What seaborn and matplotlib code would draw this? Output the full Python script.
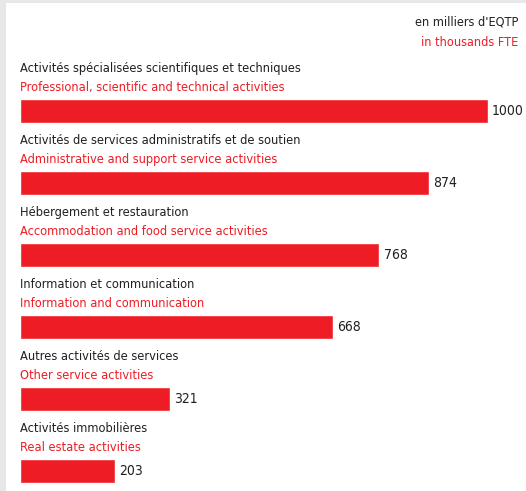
import matplotlib.pyplot as plt
import pandas as pd
import seaborn as sns

fr_labels = ["Activités spécialisées scientifiques et techniques",
             "Activités de services administratifs et de soutien",
             "Hébergement et restauration",
             "Information et communication",
             "Autres activités de services",
             "Activités immobilières"]
en_labels = ["Professional, scientific and technical activities",
             "Administrative and support service activities",
             "Accommodation and food service activities",
             "Information and communication",
             "Other service activities",
             "Real estate activities"]
values = [1000, 874, 768, 668, 321, 203]

red = "#ee1d25"
W, H = 526, 491

sns.set_style("white")
plt.rcParams['font.family'] = ['DejaVu Sans']
plt.rcParams['font.stretch'] = 'condensed'

df = pd.DataFrame({"cat": fr_labels, "val": values})

fig = plt.figure(figsize=(W / 100, H / 100), dpi=100)
fig.patch.set_facecolor("#e6e7e9")
bg = fig.add_axes([6 / W, 0, 1 - 6 / W, 488 / H])
bg.set_facecolor("white")
bg.set_xticks([])
bg.set_yticks([])
for s in bg.spines.values():
    s.set_visible(False)

ax = fig.add_axes([20 / W, 0, 468 / W, 1])
ax.set_zorder(2)
ax.patch.set_alpha(0)
sns.barplot(data=df, x="val", y="cat", orient="h", color=red, saturation=1,
            width=0.32, ax=ax)
ax.set_xlim(0, 1000)
ax.set_ylim((H - 111) / 72, -111 / 72)
ax.axis("off")

for i, (fr, en, v) in enumerate(zip(fr_labels, en_labels, values)):
    ax.text(0, i - 0.59, fr, fontsize=9.2, color="#231f20", va="center", ha="left")
    ax.text(0, i - 0.33, en, fontsize=9.2, color=red, va="center", ha="left")
    ax.annotate(str(v), (v, i), xytext=(3, 0), textcoords="offset points",
                fontsize=10, color="#231f20", va="center", ha="left")

fig.text(518 / W, 1 - 22 / H, "en milliers d'EQTP", fontsize=9.1, color="#231f20",
         ha="right", va="center")
fig.text(518 / W, 1 - 42 / H, "in thousands FTE", fontsize=9.1, color=red,
         ha="right", va="center")

fig.savefig("out.png", dpi=100)
